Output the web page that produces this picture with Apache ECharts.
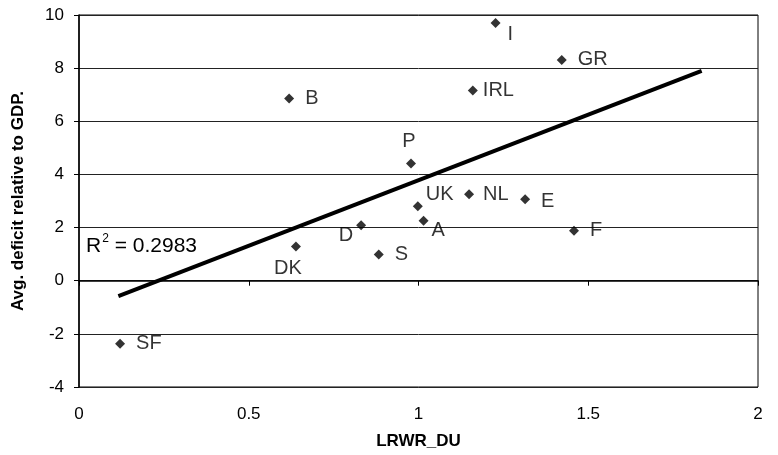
<!DOCTYPE html>
<html><head><meta charset="utf-8">
<script src="https://cdn.jsdelivr.net/npm/echarts@6/dist/echarts.min.js"></script>
<style>html,body{margin:0;padding:0;background:#fff}#c{width:778px;height:455px}</style>
</head><body><div id="c"></div>
<script>
const countries = ['I','GR','IRL','B','P','UK','NL','E','A','D','F','DK','S','SF'];
const lrwr = [1.227,1.422,1.160,0.619,0.978,0.998,1.149,1.314,1.015,0.831,1.458,0.639,0.883,0.121];
const deficit = [9.70,8.31,7.16,6.86,4.41,2.80,3.25,3.07,2.26,2.09,1.88,1.29,0.99,-2.37];
const trendX = [0.116,1.834];
const trendY = [-0.58,7.90];
const xTicks = [0,0.5,1,1.5,2];
const yTicks = [-4,-2,0,2,4,6,8,10];
const r2Text = '0.2983';

const labelPos = {
  I:{position:'right',offset:[2,12]}, GR:{position:'right',offset:[6,0]}, IRL:{position:'right',offset:[0,0]},
  B:{position:'right',offset:[6,0]}, P:{position:'top',offset:[-2,-2]}, UK:{position:'right',offset:[-2,-12]},
  NL:{position:'right',offset:[4,0]}, E:{position:'right',offset:[6,2]}, A:{position:'right',offset:[-2,10]},
  D:{position:'left',offset:[2,10]}, F:{position:'right',offset:[6,0]}, DK:{position:'bottom',offset:[-8,2]},
  S:{position:'right',offset:[6,0]}, SF:{position:'right',offset:[6,0]}
};
const font = '"Liberation Sans", Arial, sans-serif';
const pts = countries.map((c,i)=>({
  value:[lrwr[i],deficit[i]], name:c,
  label:Object.assign({show:true,formatter:c,fontSize:20,color:'#000',fontFamily:font,distance:5},labelPos[c])
}));
const chart = echarts.init(document.getElementById('c'),null,{renderer:'canvas'});
chart.setOption({
  animation:false,
  backgroundColor:'#fff',
  grid:{left:79,right:20,top:15,bottom:66,show:true,borderColor:'#000',borderWidth:1},
  xAxis:{type:'value',min:xTicks[0],max:xTicks[xTicks.length-1],interval:0.5,
    name:'LRWR_DU',nameLocation:'middle',nameGap:46,
    nameTextStyle:{fontFamily:font,fontWeight:'bold',fontSize:17,color:'#000'},
    axisLine:{show:true,lineStyle:{color:'#000',width:1.5}},
    axisTick:{show:true,length:5,lineStyle:{color:'#000'}},
    axisLabel:{fontFamily:font,fontSize:17,color:'#000',margin:19},
    splitLine:{show:false}},
  yAxis:{type:'value',min:yTicks[0],max:yTicks[yTicks.length-1],interval:2,
    name:'Avg. deficit relative to GDP.',nameLocation:'middle',nameGap:52,
    nameTextStyle:{fontFamily:font,fontWeight:'bold',fontSize:17,color:'#000'},
    axisLine:{show:true,onZero:false,lineStyle:{color:'#000',width:1.5}},
    axisTick:{show:true,length:5,lineStyle:{color:'#000'}},
    axisLabel:{fontFamily:font,fontSize:17,color:'#000',margin:15},
    splitLine:{show:true,lineStyle:{color:'#222',width:1}}},
  series:[
    {type:'line',data:trendX.map((x,i)=>[x,trendY[i]]),symbol:'none',
     lineStyle:{color:'#000',width:4},z:3},
    {type:'scatter',data:pts,symbol:'diamond',symbolSize:10,itemStyle:{color:'#000'},z:4}
  ],
  graphic:[{type:'text',left:86,top:233,style:{
    text:'{r|R}{s|2}{r| = '+r2Text+'}',
    rich:{r:{fontFamily:font,fontSize:21,fill:'#000',verticalAlign:'bottom'},
          s:{fontFamily:font,fontSize:12,fill:'#000',verticalAlign:'top',padding:[0,0,12,1]}}}}]
});
</script></body></html>
